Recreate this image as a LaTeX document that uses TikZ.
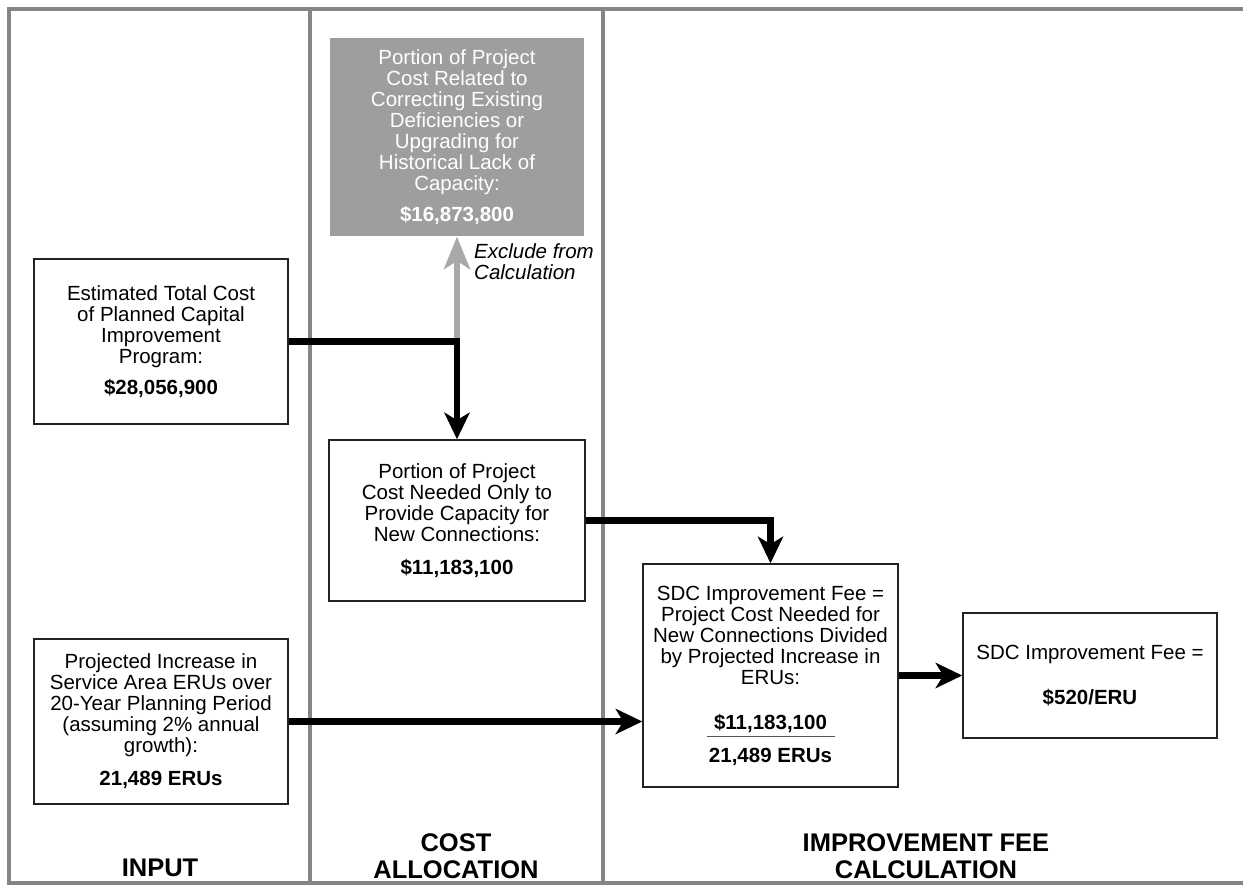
\documentclass[tikz,border=0pt]{standalone}
\usepackage{fontspec}
\setmainfont{Liberation Sans}
\usetikzlibrary{arrows.meta}
\definecolor{framegray}{HTML}{858585}
\definecolor{boxgray}{HTML}{9E9E9E}
\definecolor{arrowgray}{HTML}{A8A8A8}
\definecolor{boxline}{HTML}{222222}
\definecolor{fracrule}{HTML}{555555}
\begin{document}
\begin{tikzpicture}[x=1pt,y=-1pt,
  box/.style={draw=boxline, line width=1.6pt, fill=white, inner sep=0pt, align=center,
    font=\fontsize{20.5}{21}\selectfont, minimum width=254pt},
  graybox/.style={box, draw=none, fill=boxgray, text=white},
  conn/.style={line width=6.5pt, -{Stealth[length=27pt,width=26pt,inset=8pt,line width=0pt]}},
  excl/.style={line width=6pt, draw=arrowgray, -{Stealth[length=33pt,width=27pt,inset=9pt,line width=0pt]}},
  frame/.style={draw=framegray, line width=3.5pt},
  header/.style={font=\fontsize{25.5}{27}\selectfont\bfseries, align=center, inner sep=0pt},
  note/.style={font=\fontsize{20.5}{21}\selectfont\itshape, align=left, anchor=north west, inner sep=0pt}
]
\useasboundingbox (0,0) rectangle (1243,886);
\fill[white] (0,0) rectangle (1243,886);

% frame and column dividers
\draw[frame] (1243,9) -- (9,9) -- (9,883) -- (1243,883);
\draw[frame] (310,9) -- (310,883);
\draw[frame] (603,9) -- (603,883);

% boxes
\node[graybox, minimum height=198pt] (gray) at (457,137)
  {Portion of Project\\Cost Related to\\Correcting Existing\\Deficiencies or\\Upgrading for\\Historical Lack of\\Capacity:\\[10pt]\textbf{\$16,873,800}};
\node[box, minimum height=165pt] (b1) at (161,341.5)
  {Estimated Total Cost\\of Planned Capital\\Improvement\\Program:\\[10pt]\textbf{\$28,056,900}};
\node[box, minimum width=256pt, minimum height=161pt] (b2) at (457,520.5)
  {Portion of Project\\Cost Needed Only to\\Provide Capacity for\\New Connections:\\[12pt]\textbf{\$11,183,100}};
\node[box, minimum height=165pt] (b3) at (161,721.5)
  {Projected Increase in\\Service Area ERUs over\\20-Year Planning Period\\(assuming 2\% annual\\growth):\\[12pt]\textbf{21,489 ERUs}};
\node[box, minimum width=255pt, minimum height=223pt] (b4) at (770.5,675.5)
  {SDC Improvement Fee =\\Project Cost Needed for\\New Connections Divided\\by Projected Increase in\\ERUs:\\[24pt]\textbf{\$11,183,100}\\[-13pt]{\color{fracrule}\rule{128pt}{1.5pt}}\\[4pt]\textbf{21,489 ERUs}};
\node[box, minimum height=125pt] (b5) at (1090,675.5)
  {SDC Improvement Fee =\\[24pt]\textbf{\$520/ERU}};

% note
\node[note] (note) at (474,243) {Exclude from\\Calculation};

% headers
\node[header] (hin) at (160,868) {INPUT};
\node[header] (hcost) at (456,856.5) {COST\\ALLOCATION};
\node[header] (hfee) at (926,856.5) {IMPROVEMENT FEE\\CALCULATION};

% connectors
\coordinate (split) at (b2.north |- b1.east);
\draw[excl] (split) -- (gray.south);
\draw[conn] (b1.east) -| (b2.north);
\draw[conn] (b2.east) -| (b4.north);
\draw[conn] (b3.east) -- (b3.east -| b4.west);
\draw[conn] (b4.east) -- (b5.west);
\end{tikzpicture}
\end{document}
